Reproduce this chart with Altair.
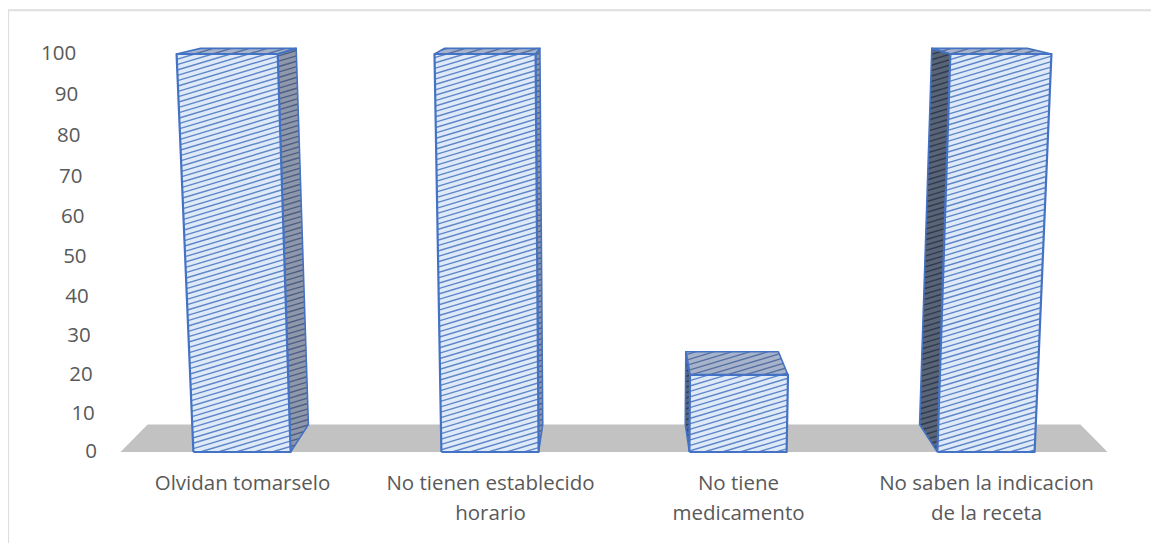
import json
import altair as alt
import pandas as pd

# ---- chart values ----
categories = [
    ["Olvidan tomarselo"],
    ["No tienen establecido", "horario"],
    ["No tiene", "medicamento"],
    ["No saben la indicacion", "de la receta"],
]
values = [100, 100, 20, 100]
ticks = [0, 10, 20, 30, 40, 50, 60, 70, 80, 90, 100]
positions = [-1.5, -0.5, 0.5, 1.5]

# ---- oblique view of the 3-D chart, in scale units ----
PX_X = 248.0    # px per category
PX_Y = 3.98     # px per value unit
HALF = 0.196    # half bar width, in categories
FLARE = 0.04    # widening towards the top
SHRINK = 0.055  # narrowing towards the back
LIFT = 6.91     # floor depth, in value units
CURVE = 0.96    # perspective of the value axis


def height(v):
    t = v / 100
    return 100 * (CURVE * t + (1 - CURVE) * t * t)


def proj(c, v, d):
    s = 1 - SHRINK * d
    return c * (1 + FLARE * v / 100) * s, height(v) * s + LIFT * d


def spans(poly):
    """Convex polygon -> (x, y_low, y_high) rows for a vertical area."""
    xs_ = sorted({p[0] for p in poly})
    rows = []
    n = len(poly)
    for x in xs_:
        vals = []
        for i in range(n):
            (x1, y1), (x2, y2) = poly[i], poly[(i + 1) % n]
            if x1 == x2:
                if x1 == x:
                    vals += [y1, y2]
            elif min(x1, x2) <= x <= max(x1, x2):
                vals.append(y1 + (x - x1) / (x2 - x1) * (y2 - y1))
        rows.append((x, min(vals), max(vals)))
    return rows


def hatch(poly, step=5.4, slope=0.3):
    """Clip the diagonal pattern lines to a convex polygon."""
    pts = [(x * PX_X, y * PX_Y) for x, y in poly]
    cs = [y - slope * x for x, y in pts]
    out = []
    c = min(cs) // step * step
    while c < max(cs):
        hits = []
        n = len(pts)
        for i in range(n):
            (x1, y1), (x2, y2) = pts[i], pts[(i + 1) % n]
            f1, f2 = y1 - slope * x1 - c, y2 - slope * x2 - c
            if f1 * f2 < 0:
                t = f1 / (f1 - f2)
                hits.append((x1 + t * (x2 - x1), y1 + t * (y2 - y1)))
        if len(hits) == 2:
            a, b = hits
            out.append((a[0] / PX_X, a[1] / PX_Y, b[0] / PX_X, b[1] / PX_Y))
        c += step
    return out


FRONT = ("#dfeaf8", "#5f86c9")
SIDE_R = ("#8f98aa", "#4c5f86")
SIDE_L = ("#596476", "#2e3b53")
TOP = ("#a6b3ca", "#5570a2")
BORDER = "#4472c4"

faces = []
for c, v in zip(positions, values):
    l, r = c - HALF, c + HALF
    front = [proj(l, 0, 0), proj(r, 0, 0), proj(r, v, 0), proj(l, v, 0)]
    top = [proj(l, v, 0), proj(r, v, 0), proj(r, v, 1), proj(l, v, 1)]
    if c < 0:
        side = [proj(r, 0, 0), proj(r, 0, 1), proj(r, v, 1), proj(r, v, 0)]
        scol = SIDE_R
    else:
        side = [proj(l, 0, 0), proj(l, 0, 1), proj(l, v, 1), proj(l, v, 0)]
        scol = SIDE_L
    faces.append(("back", side, scol))
    faces.append(("back", top, TOP))
    faces.append(("front", front, FRONT))


def tables(group):
    fill, line, edge = [], [], []
    for i, (g, poly, cols) in enumerate(faces):
        if g != group:
            continue
        for (x, a, b) in spans(poly):
            fill.append(dict(f=i, x=x, a=a, b=b, col=cols[0]))
        for (x1, y1, x2, y2) in hatch(poly):
            line.append(dict(x=x1, y=y1, xe=x2, ye=y2, col=cols[1]))
        for k, (x, y) in enumerate(poly + poly[:1]):
            edge.append(dict(f=i, o=k, x=x, y=y))
    return pd.DataFrame(fill), pd.DataFrame(line), pd.DataFrame(edge)


label_expr = "".join(
    f"datum.value == {p} ? {json.dumps(n)} : " for p, n in zip(positions, categories)
) + "''"
xs = alt.Scale(domain=[-2, 2], nice=False, zero=False)
ys = alt.Scale(domain=[0, 100], nice=False, zero=False)
x_axis = alt.Axis(
    values=positions, labelExpr=label_expr, domain=False, ticks=False, grid=False,
    labelFont="Open Sans", labelFontSize=20.5, labelColor="#595959", labelPadding=31,
    labelLineHeight=30, labelAngle=0, labelBaseline="middle", labelLimit=400, title=None)


def X(f):
    return alt.X(f, scale=xs, axis=x_axis)


def Y(f):
    return alt.Y(f, scale=ys, axis=None)


def face_layers(group, edge_width):
    fill, line, edge = tables(group)
    return [
        alt.Chart(fill).mark_area(opacity=1).encode(
            x=X("x:Q"), y=Y("a:Q"), y2="b:Q", detail="f:N",
            color=alt.Color("col:N", scale=None),
        ),
        alt.Chart(line).mark_rule(strokeWidth=1.4).encode(
            x=X("x:Q"), x2="xe:Q", y=Y("y:Q"), y2="ye:Q",
            color=alt.Color("col:N", scale=None),
        ),
        alt.Chart(edge).mark_line(color=BORDER, strokeWidth=edge_width, strokeJoin="round").encode(
            x=X("x:Q"), y=Y("y:Q"), detail="f:N", order="o:Q",
        ),
    ]


# floor
floor_poly = [proj(-1.99, 0, 0), proj(1.99, 0, 0), proj(1.99, 0, 1), proj(-1.99, 0, 1)]
floor = alt.Chart(pd.DataFrame(
    [dict(x=x, a=a, b=b) for (x, a, b) in spans(floor_poly)]
)).mark_area(color="#c2c2c2", opacity=1).encode(
    x=X("x:Q"), y=Y("a:Q"), y2="b:Q",
)

# value labels follow the slanted axis
tick_df = pd.DataFrame({
    "t": ticks,
    "x": [proj(-2.085, t, 0)[0] for t in ticks],
    "y": [proj(0, t, 0)[1] for t in ticks],
})
tick_text = alt.Chart(tick_df).mark_text(
    align="right", baseline="middle", font="Open Sans", fontSize=20.5, color="#595959"
).encode(x=X("x:Q"), y=Y("y:Q"), text="t:Q")

# frame of the chart area (left and top edges only), beyond the plot scales
frame_df = pd.DataFrame({
    "x": [-2.443, -2.443], "xe": [-2.443, 2.64],
    "y": [-25.0, 111.0], "ye": [111.0, 111.0],
})
frame = alt.Chart(frame_df).mark_rule(color="#dedede", strokeWidth=2).encode(
    x=X("x:Q"), x2="xe:Q", y=Y("y:Q"), y2="ye:Q")

chart = alt.layer(
    frame, floor,
    *face_layers("back", 1.6),
    *face_layers("front", 2.2),
    tick_text,
).properties(
    width=992, height=398,
    autosize=alt.AutoSizeParams(type="none"),
    padding={"left": 110, "top": 46, "right": 41, "bottom": 91},
    background="white",
).configure_view(stroke=None)

chart.save("out.html", embed_options={"renderer": "svg", "actions": False})
